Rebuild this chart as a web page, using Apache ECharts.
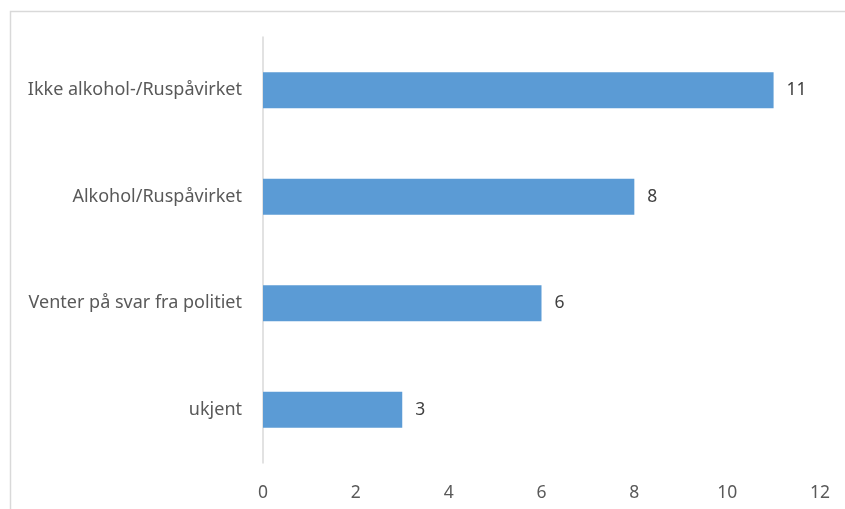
<!DOCTYPE html>
<html><head><meta charset="utf-8">
<script src="https://cdn.jsdelivr.net/npm/echarts@6/dist/echarts.min.js"></script>
<style>html,body{margin:0;padding:0;background:#fff}#c{width:845px;height:509px}</style>
</head><body><div id="c"></div>
<script>
const categories = ["ukjent", "Venter på svar fra politiet", "Alkohol/Ruspåvirket", "Ikke alkohol-/Ruspåvirket"];
const values = [3, 6, 8, 11];
const xTicks = {min: 0, max: 12, interval: 2};

const chart = echarts.init(document.getElementById('c'));
const font = '"Noto Sans", sans-serif';
chart.setOption({
  animation: false,
  graphic: [{type: 'rect', left: 8, top: 9, shape: {width: 900, height: 600}, style: {fill: 'none', stroke: '#d9d9d9', lineWidth: 1.5}, silent: true}],
  grid: {left: 263, right: 25, top: 37, bottom: 46, containLabel: false},
  xAxis: {type: 'value', min: xTicks.min, max: xTicks.max, interval: xTicks.interval,
    axisLine: {show: false}, axisTick: {show: false}, splitLine: {show: false},
    axisLabel: {color: '#595959', fontSize: 17.5, fontFamily: font, margin: 21}},
  yAxis: {type: 'category', data: categories,
    axisLine: {show: true, lineStyle: {color: '#d9d9d9', width: 1.5}}, axisTick: {show: false},
    axisLabel: {color: '#595959', fontSize: 18, fontFamily: font, margin: 21}},
  series: [{type: 'bar', data: values, barWidth: '34%', itemStyle: {color: '#5b9bd5'},
    label: {show: true, position: 'right', distance: 13, color: '#404040', fontSize: 17.5, fontFamily: font}}]
});
</script></body></html>
